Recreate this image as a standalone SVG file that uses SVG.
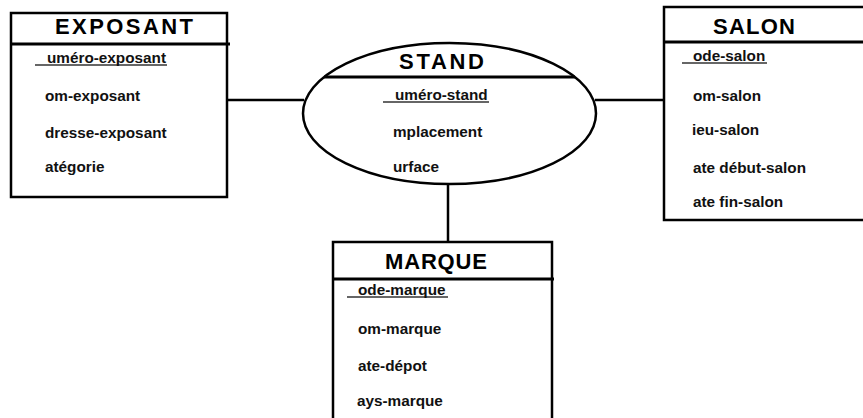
<svg xmlns="http://www.w3.org/2000/svg" width="863" height="418" viewBox="0 0 863 418">
<style>
.box{fill:#fff;stroke:#000;stroke-width:2.5}
.hdr{stroke:#000;stroke-width:3}
.conn{stroke:#000;stroke-width:2.5;fill:none}
.ul{stroke:#333;stroke-width:1.5}
.title{font-family:"Liberation Sans",Arial,sans-serif;font-weight:bold;font-size:22px;fill:#000}
.attr{font-family:"Liberation Sans",Arial,sans-serif;font-weight:bold;font-size:15.3px;fill:#111}
</style>
<rect width="863" height="418" fill="#fff"/>
<g id="connectors">
<line class="conn" x1="228" y1="100" x2="304" y2="100"/>
<line class="conn" x1="595" y1="100" x2="665" y2="100"/>
<line class="conn" x1="448" y1="183" x2="448" y2="243"/>
</g>
<g id="exposant">
<rect class="box" x="11" y="13" width="216" height="184"/>
<line class="hdr" x1="11" y1="44" x2="230" y2="44"/>
<text class="title" x="55" y="34" textLength="138" lengthAdjust="spacing">EXPOSANT</text>
<line class="ul" x1="35" y1="65" x2="167" y2="65"/>
<text class="attr" x="47" y="63">uméro-exposant</text>
<text class="attr" x="45" y="101">om-exposant</text>
<text class="attr" x="45" y="138">dresse-exposant</text>
<text class="attr" x="45" y="172">atégorie</text>
</g>
<g id="stand">
<ellipse class="box" cx="449.5" cy="113.5" rx="146.5" ry="70.5"/>
<line class="hdr" x1="324" y1="77" x2="575" y2="77"/>
<text class="title" x="399" y="69" textLength="85" lengthAdjust="spacing">STAND</text>
<line class="ul" x1="383" y1="102" x2="489" y2="102"/>
<text class="attr" x="395" y="100">uméro-stand</text>
<text class="attr" x="393" y="137">mplacement</text>
<text class="attr" x="393" y="172">urface</text>
</g>
<g id="salon">
<rect class="box" x="664" y="7" width="210" height="213"/>
<line class="hdr" x1="664" y1="42" x2="863" y2="42"/>
<text class="title" x="713" y="34" textLength="82" lengthAdjust="spacing">SALON</text>
<line class="ul" x1="682" y1="63" x2="767" y2="63"/>
<text class="attr" x="693" y="61">ode-salon</text>
<text class="attr" x="693" y="101">om-salon</text>
<text class="attr" x="692" y="135">ieu-salon</text>
<text class="attr" x="693" y="173">ate début-salon</text>
<text class="attr" x="693" y="207">ate fin-salon</text>
</g>
<g id="marque">
<rect class="box" x="333" y="242" width="219" height="190"/>
<line class="hdr" x1="333" y1="279" x2="554" y2="279"/>
<text class="title" x="385" y="269" textLength="102" lengthAdjust="spacing">MARQUE</text>
<line class="ul" x1="347" y1="297" x2="448" y2="297"/>
<text class="attr" x="358" y="295">ode-marque</text>
<text class="attr" x="358" y="334">om-marque</text>
<text class="attr" x="358" y="371">ate-dépot</text>
<text class="attr" x="357" y="406">ays-marque</text>
</g>
</svg>
